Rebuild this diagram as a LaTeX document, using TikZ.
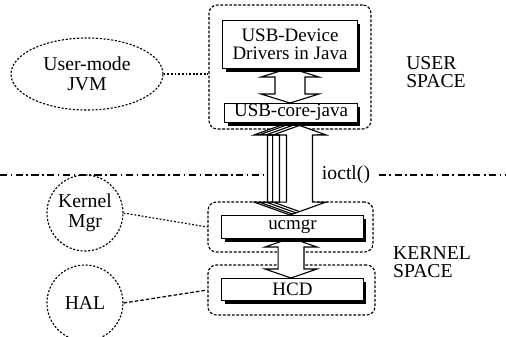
\documentclass[tikz,border=0pt]{standalone}
\usepackage{fontspec}
\setmainfont{Liberation Serif}
\usetikzlibrary{calc,shadows,shapes.geometric}

% hollow double arrow: top node, bottom node, shaft half, head half, head length, shift
\newcommand{\fatpath}[6]{let \p1=(#1), \p2=(#2) in
  (\x1+#6,\y1) -- (\x1+#6+#4,\y1-#5) -- (\x1+#6+#3,\y1-#5) -- (\x1+#6+#3,\y2+#5)
  -- (\x1+#6+#4,\y2+#5) -- (\x1+#6,\y2) -- (\x1+#6-#4,\y2+#5) -- (\x1+#6-#3,\y2+#5)
  -- (\x1+#6-#3,\y1-#5) -- (\x1+#6-#4,\y1-#5) -- cycle}

\tikzset{
  modbox/.style={draw, fill=white, line width=0.7pt, inner sep=0pt, align=center,
    font=\fontsize{13.5}{13}\selectfont,
    drop shadow={shadow xshift=2pt, shadow yshift=-2.5pt, fill=black, opacity=1}},
  spacebox/.style={draw, dash pattern=on 2pt off 1.2pt, rounded corners=6pt, line width=0.8pt},
  bubble/.style={draw, dash pattern=on 1.5pt off 1.2pt, line width=0.8pt, align=center,
    font=\fontsize{14}{14}\selectfont, inner sep=0pt},
  spacetext/.style={align=left, font=\fontsize{14}{13}\selectfont},
  fatline/.style={draw, fill=white, line width=0.8pt},
  spaceline/.style={line width=1.4pt, dash pattern=on 5pt off 2.5pt on 1.2pt off 2.5pt},
  link/.style={dash pattern=on 1.3pt off 1.3pt, line width=0.8pt}
}

\begin{document}
\begin{tikzpicture}[x=0.025cm, y=-0.025cm]
  \useasboundingbox (0,0) rectangle (506,336);

  % dashed frames
  \node[spacebox, minimum width=4.05cm, minimum height=3.1cm] (userbox) at (290,67) {};
  \node[spacebox, minimum width=4.125cm, minimum height=1.25cm] (mgrbox) at (290.5,227) {};
  \node[spacebox, minimum width=4.175cm, minimum height=1.25cm] (hcdbox) at (291.5,290) {};

  % user / kernel border
  \coordinate (lft) at (0,175);
  \coordinate (rgt) at (506,175);
  \node[font=\fontsize{14}{14}\selectfont, inner sep=6pt] (ioctl) at (346,175) {ioctl()};
  \draw[spaceline] (lft) -- (ioctl);
  \draw[spaceline] (ioctl) -- (rgt);

  % anchors for the arrows
  \coordinate (drvS) at (290,68);
  \coordinate (coreN) at (290,103);
  \coordinate (coreS) at (290,122);
  \coordinate (ucmN) at (290,215);
  \coordinate (ucmS) at (291,238);
  \coordinate (hcdN) at (291,278);

  \draw[fatline] \fatpath{drvS}{coreN}{10.7pt}{20.6pt}{6.4pt}{0pt};
  \draw[fatline] \fatpath{coreS}{ucmN}{16pt}{25.6pt}{9.2pt}{0pt};
  \begin{scope}
    \clip \fatpath{coreS}{ucmN}{16pt}{25.6pt}{9.2pt}{0pt};
    \foreach \s in {3.6pt,8.5pt,13.5pt}
      \draw[line width=0.8pt] \fatpath{coreS}{ucmN}{16pt}{25.6pt}{9.2pt}{\s};
  \end{scope}
  \draw[fatline] \fatpath{ucmS}{hcdN}{9.2pt}{18.5pt}{6.4pt}{0pt};

  % modules
  \node[modbox, minimum width=3.35cm, minimum height=1.2cm] (drv) at (290,44)
    {USB-Device\\Drivers in Java};
  \node[modbox, minimum width=3.3cm, minimum height=0.475cm] (core) at (291,112.5) {USB-core-java};
  \node[modbox, minimum width=3.525cm, minimum height=0.575cm] (ucmgr) at (292.5,226.5) {ucmgr};
  \node[modbox, minimum width=3.525cm, minimum height=0.55cm] (hcd) at (292.5,289) {HCD};

  % helpers on the left
  \node[bubble, ellipse, minimum width=3.8cm, minimum height=1.8cm] (jvm) at (87,74) {User-mode\\JVM};
  \node[bubble, circle, minimum size=1.9cm] (kmgr) at (85,213) {Kernel\\Mgr};
  \node[bubble, circle, minimum size=1.9cm] (hal) at (85,303) {HAL};

  \draw[link] (jvm.east) -- (jvm.east -| userbox.west);
  \draw[link] (kmgr.east) -- (mgrbox.west);
  \draw[link, dash pattern=on 2.5pt off 1.5pt, line width=0.9pt] (hal.east) -- (hcdbox.west);

  \node[spacetext] (user) at (436,72) {USER\\SPACE};
  \node[spacetext] (kernel) at (432,262) {KERNEL\\SPACE};
\end{tikzpicture}
\end{document}
